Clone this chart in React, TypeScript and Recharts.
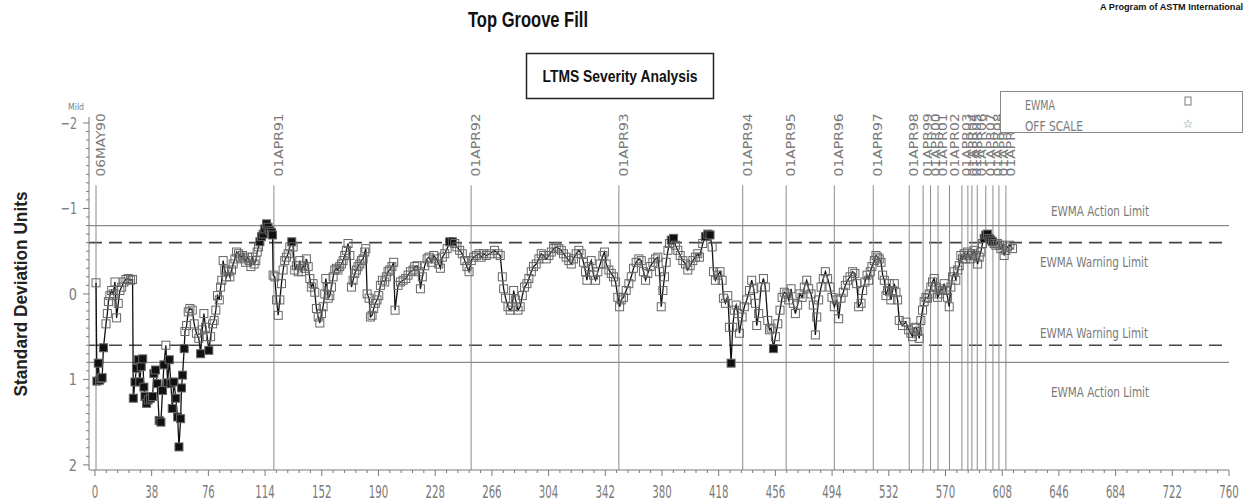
import React from 'react';
import { LineChart, Line, XAxis, YAxis, ReferenceLine } from 'recharts';

// test sequence (run number) and EWMA value in standard deviation units
const runs = [
  0.7, 1.3, 2.2, 3.1, 4.0, 4.8, 5.7, 7.4, 8.3, 9.0, 10.0, 11.2, 12.3, 13.4, 14.5, 15.6, 16.7, 17.9, 19.4, 20.8,
  22.3, 23.9, 25.2, 25.7, 26.8, 27.8, 29.0, 30.0, 31.0, 32.0, 32.8, 33.5, 34.6, 35.7, 37.3, 38.6, 39.5, 40.6, 41.7, 43.0,
  44.2, 45.3, 46.2, 47.5, 48.7, 49.8, 50.9, 51.8, 52.9, 54.2, 55.4, 56.3, 57.4, 58.0, 58.7, 59.8, 60.3, 61.4, 62.5, 63.6,
  65.2, 66.5, 68.0, 69.6, 70.8, 71.9, 73.0, 74.1, 75.2, 76.3, 77.5, 78.8, 79.9, 81.0, 82.1, 83.3, 84.2, 85.0, 85.9, 87.0,
  88.2, 89.3, 90.4, 91.5, 92.6, 93.8, 94.9, 96.2, 97.5, 98.9, 100.0, 101.0, 102.2, 103.3, 104.5, 105.6, 106.7, 107.8, 108.7, 109.6,
  110.5, 111.6, 112.7, 113.8, 115.0, 116.0, 117.2, 118.3, 119.0, 119.4, 120.5, 121.7, 122.8, 123.9, 125.0, 126.1, 127.2, 128.3, 129.5, 130.6,
  131.9, 132.8, 133.9, 135.0, 136.2, 137.3, 138.4, 139.5, 140.6, 141.7, 142.9, 144.0, 145.0, 146.2, 147.3, 148.4, 149.6, 150.7, 151.8, 152.9,
  154.0, 154.7, 155.6, 156.3, 157.4, 158.5, 159.6, 160.7, 161.8, 162.9, 164.0, 165.2, 166.3, 167.4, 168.5, 169.6, 170.8, 171.9, 173.0, 174.1,
  175.2, 176.3, 177.5, 178.6, 179.7, 180.8, 181.5, 182.4, 183.7, 184.6, 185.7, 186.8, 187.9, 189.0, 190.2, 191.3, 192.6, 194.2, 195.3, 196.4,
  197.5, 199.0, 200.2, 201.1, 203.1, 204.7, 206.5, 208.3, 209.8, 211.4, 213.2, 214.3, 215.9, 217.2, 218.1, 219.4, 221.0, 222.6, 223.9, 225.5,
  227.0, 228.8, 230.4, 231.5, 232.8, 234.4, 236.0, 237.7, 239.5, 241.1, 242.6, 244.4, 246.2, 247.8, 249.3, 250.7, 252.2, 253.8, 255.6, 257.4,
  258.9, 260.5, 262.3, 264.5, 267.8, 270.1, 271.6, 273.0, 273.9, 275.2, 276.8, 278.3, 279.7, 280.6, 281.9, 283.5, 285.0, 286.4, 287.9, 289.5,
  290.8, 292.4, 293.9, 295.7, 297.5, 299.1, 300.7, 302.4, 304.2, 305.8, 307.4, 309.1, 310.9, 312.5, 314.0, 315.8, 317.6, 319.2, 320.7, 322.5,
  324.3, 325.9, 327.4, 328.8, 329.7, 331.0, 332.6, 334.1, 335.5, 337.0, 338.6, 340.4, 341.5, 342.6, 344.4, 346.0, 347.5, 348.9, 350.4, 351.6,
  352.7, 354.2, 356.0, 357.8, 359.4, 360.9, 362.7, 364.5, 366.1, 367.6, 369.0, 370.5, 372.1, 373.9, 375.7, 377.2, 378.3, 379.5, 380.6, 381.7,
  382.8, 384.0, 385.0, 386.2, 387.7, 389.0, 390.6, 392.2, 394.0, 395.8, 397.3, 398.9, 400.7, 402.4, 404.0, 405.1, 407.3, 409.1, 410.7, 412.2,
  413.6, 414.5, 415.8, 417.4, 418.9, 420.3, 421.2, 422.5, 424.1, 425.2, 426.3, 427.4, 428.5, 429.7, 430.8, 431.9, 433.7, 435.2, 436.8, 438.6,
  440.1, 441.5, 442.6, 443.5, 444.8, 446.4, 448.0, 449.3, 450.9, 452.0, 453.1, 454.7, 456.0, 457.6, 459.1, 460.5, 462.0, 463.6, 464.9, 466.5,
  468.0, 469.4, 470.9, 472.5, 473.9, 475.4, 477.0, 478.3, 479.9, 481.4, 482.8, 483.7, 485.0, 486.6, 488.1, 489.5, 491.0, 492.6, 493.9, 495.5,
  497.1, 498.4, 500.0, 501.5, 502.9, 504.4, 506.0, 507.8, 509.3, 510.5, 511.8, 513.4, 514.5, 516.0, 517.4, 518.5, 519.6, 520.7, 522.3, 523.4,
  524.5, 525.6, 526.8, 527.9, 529.0, 530.1, 531.2, 532.3, 533.4, 534.6, 535.7, 536.8, 537.9, 539.0, 541.2, 543.5, 545.3, 546.8, 547.9, 549.0,
  550.2, 551.3, 552.4, 553.5, 554.6, 555.7, 556.9, 558.0, 559.1, 560.2, 561.3, 562.4, 563.6, 564.7, 565.8, 566.9, 568.0, 569.1, 570.3, 571.4,
  572.5, 573.6, 574.7, 575.8, 576.9, 578.1, 579.2, 580.3, 581.4, 582.5, 583.6, 584.8, 585.9, 587.0, 588.1, 589.2, 590.3, 591.5, 592.6, 593.7,
  594.8, 595.9, 597.0, 598.2, 599.3, 600.4, 601.5, 602.6, 603.7, 604.8, 606.0, 607.1, 608.2, 609.3, 610.4, 611.5, 613.1, 614.9,
];

const ewma = [
  -0.13, 1.02, 0.81, 1.01, 0.99, 0.98, 0.63, 0.35, 0.23, 0.09, 0.02, -0.04, 0.0, -0.14, 0.28, 0.11, -0.04, -0.08, -0.14, -0.17,
  -0.18, -0.16, -0.17, 1.22, 1.03, 0.87, 0.77, 1.03, 0.85, 0.76, 1.09, 1.2, 1.28, 1.24, 1.22, 1.2, 0.93, 0.89, 1.05, 1.48,
  1.5, 1.13, 0.83, 0.6, 1.04, 0.77, 1.05, 1.34, 1.03, 1.22, 1.44, 1.79, 1.46, 1.1, 0.95, 0.64, 0.44, 0.37, 0.21, 0.17,
  0.19, 0.35, 0.46, 0.52, 0.7, 0.42, 0.23, 0.39, 0.5, 0.66, 0.5, 0.35, 0.31, 0.19, 0.02, 0.07, -0.08, -0.16, -0.39, -0.28,
  -0.2, -0.26, -0.2, -0.28, -0.35, -0.41, -0.49, -0.47, -0.43, -0.45, -0.41, -0.37, -0.43, -0.39, -0.32, -0.43, -0.35, -0.39, -0.49, -0.55,
  -0.61, -0.67, -0.7, -0.76, -0.82, -0.78, -0.74, -0.72, -0.69, -0.22, -0.2, 0.07, 0.25, 0.07, -0.12, -0.28, -0.39, -0.43, -0.47, -0.55,
  -0.61, -0.55, -0.28, -0.33, -0.26, -0.39, -0.26, -0.33, -0.3, -0.41, -0.32, -0.18, -0.08, -0.12, -0.02, 0.17, 0.27, 0.34, 0.23, 0.15,
  0.0, -0.18, -0.08, 0.05, 0.02, -0.08, -0.2, -0.28, -0.3, -0.28, -0.32, -0.35, -0.39, -0.45, -0.51, -0.59, -0.45, -0.08, -0.16, -0.24,
  -0.28, -0.32, -0.35, -0.39, -0.41, -0.49, -0.53, 0.0, 0.05, 0.27, 0.25, 0.17, 0.11, 0.07, 0.02, -0.1, -0.16, -0.14, -0.2, -0.26,
  -0.28, -0.32, -0.37, 0.19, -0.1, -0.14, -0.16, -0.18, -0.22, -0.26, -0.28, -0.32, -0.33, -0.26, -0.06, -0.2, -0.33, -0.41, -0.43, -0.37,
  -0.45, -0.41, -0.35, -0.3, -0.43, -0.47, -0.53, -0.61, -0.61, -0.59, -0.55, -0.51, -0.47, -0.39, -0.32, -0.26, -0.39, -0.43, -0.45, -0.47,
  -0.43, -0.47, -0.45, -0.47, -0.51, -0.47, -0.45, -0.2, -0.06, 0.05, 0.15, 0.19, 0.15, -0.04, 0.07, 0.19, 0.15, 0.02, -0.08, -0.12,
  -0.18, -0.26, -0.32, -0.35, -0.41, -0.47, -0.45, -0.41, -0.45, -0.49, -0.53, -0.55, -0.53, -0.51, -0.47, -0.43, -0.39, -0.35, -0.41, -0.47,
  -0.51, -0.47, -0.37, -0.26, -0.16, -0.32, -0.39, -0.22, -0.16, -0.26, -0.35, -0.45, -0.49, -0.35, -0.28, -0.24, -0.2, -0.14, 0.04, 0.15,
  0.07, 0.04, -0.04, -0.12, -0.2, -0.3, -0.37, -0.41, -0.39, -0.26, -0.16, -0.24, -0.32, -0.37, -0.41, -0.43, -0.26, 0.15, -0.04, -0.2,
  -0.37, -0.51, -0.59, -0.63, -0.65, -0.57, -0.51, -0.45, -0.39, -0.35, -0.28, -0.33, -0.39, -0.43, -0.47, -0.43, -0.59, -0.67, -0.7, -0.69,
  -0.55, -0.26, -0.16, -0.22, -0.26, -0.16, 0.05, 0.11, 0.02, 0.39, 0.81, 0.39, 0.19, 0.13, 0.23, 0.46, 0.27, 0.15, 0.07, -0.04,
  -0.16, -0.06, 0.11, 0.37, 0.23, -0.08, -0.18, -0.08, 0.31, 0.42, 0.4, 0.64, 0.5, 0.35, 0.19, 0.04, -0.02, 0.0, 0.07, -0.06,
  0.11, 0.23, 0.13, 0.0, 0.04, -0.08, -0.16, -0.06, 0.0, 0.13, 0.48, 0.27, 0.07, -0.08, -0.18, -0.26, -0.18, -0.08, 0.04, 0.15,
  0.07, 0.29, 0.05, -0.02, -0.1, -0.16, -0.2, -0.26, -0.24, -0.12, 0.15, 0.11, -0.04, -0.14, -0.22, -0.16, -0.26, -0.32, -0.39, -0.45,
  -0.43, -0.41, -0.37, -0.22, -0.16, 0.02, -0.04, -0.12, 0.07, -0.04, -0.12, -0.02, 0.07, 0.31, 0.37, 0.33, 0.42, 0.46, 0.5, 0.4,
  0.39, 0.44, 0.52, 0.31, 0.19, 0.09, 0.04, 0.05, 0.0, -0.08, -0.14, -0.18, -0.08, 0.04, 0.0, -0.06, -0.04, -0.12, -0.04, 0.04,
  0.15, -0.08, -0.2, -0.26, -0.16, -0.28, -0.33, -0.45, -0.41, -0.47, -0.41, -0.49, -0.45, -0.41, -0.47, -0.51, -0.45, -0.35, -0.43, -0.49,
  -0.59, -0.65, -0.69, -0.7, -0.65, -0.63, -0.61, -0.59, -0.57, -0.59, -0.57, -0.53, -0.57, -0.45, -0.51, -0.55, -0.57, -0.53,
];

const xMajorTicks = [0, 38, 76, 114, 152, 190, 228, 266, 304, 342, 380, 418, 456, 494, 532, 570, 608, 646, 684, 722, 760];
const yMajorTicks = [-2, -1, 0, 1, 2];

// calendar markers along the run axis
const dateRuns = [
  0.7, 119.9, 252.1, 351.1, 434.1, 463.2, 495.5, 521.6, 545.7, 555.0, 560.0, 565.0, 572.7,
  581.0, 585.0, 587.7, 591.3, 597.0, 601.8, 605.8, 610.5,
];
const dateLabels = [
  '06MAY90', '01APR91', '01APR92', '01APR93', '01APR94', '01APR95', '01APR96', '01APR97', '01APR98', '01APR99', '01APR00',
  '01APR01', '01APR02', '01APR03', '01APR04', '01APR05', '01APR06', '01APR07', '01APR08', '01APR09', '01APR10',
];

const actionLimits = [-0.8, 0.8];
const warningLimits = [-0.6, 0.6];

const data = runs.map((run, i) => ({ run, ewma: ewma[i] }));

// minor ticks: 4 between x majors, every 0.1 on y
const xTicks: number[] = [];
xMajorTicks.forEach((t, i) => {
  xTicks.push(t);
  if (i < xMajorTicks.length - 1) for (let k = 1; k < 5; k++) xTicks.push(Math.round((t + 7.6 * k) * 10) / 10);
});
const yTicks: number[] = [];
for (let k = -20; k <= 20; k++) yTicks.push(k / 10);

const GREY = '#7a7a7a';
const LABEL_FONT = '"DejaVu Sans", sans-serif';

const XTick = (props: any) => {
  const { x, y, payload } = props;
  const major = xMajorTicks.includes(payload.value);
  return (
    <g>
      <line x1={x} x2={x} y1={y} y2={y + (major ? 6 : 3)} stroke={GREY} />
      {major && (
        // narrow digits, squeezed horizontally
        <text transform={`translate(${x} ${y + 28}) scale(0.6 1)`} textAnchor="middle" fontSize={17} fill={GREY}
          fontFamily={LABEL_FONT}>
          {payload.value}
        </text>
      )}
    </g>
  );
};

const YTick = (props: any) => {
  const { x, y, payload } = props;
  const major = yMajorTicks.includes(payload.value);
  const txt = payload.value < 0 ? `\u2212${Math.abs(payload.value)}` : String(payload.value);
  return (
    <g>
      <line x1={x - (major ? 6 : 3)} x2={x} y1={y} y2={y} stroke={GREY} />
      {major && (
        <text x={x - 12} y={y + 6} textAnchor="end" fontSize={16} fill={GREY} fontFamily={LABEL_FONT}
          textLength={txt.length * 8.2} lengthAdjust="spacingAndGlyphs">
          {txt}
        </text>
      )}
    </g>
  );
};

const SquareDot = (props: any) => {
  const { cx, cy, value, index } = props;
  if (cx == null || cy == null) return <g key={index} />;
  const beyond = Math.abs(value) > 0.6;
  return (
    <rect key={index} x={cx - 4} y={cy - 4} width={8} height={8}
      fill={beyond ? '#111' : 'none'} stroke="#666" strokeWidth={1} />
  );
};

const dateLabel = (text: string) => (p: any) => {
  const vb = p.viewBox;
  if (!vb) return null;
  const tx = vb.x + 9;
  const ty = vb.y - 9;
  return (
    <text x={tx} y={ty} transform={`rotate(-90 ${tx} ${ty})`} fontSize={13} fill={GREY} fontFamily={LABEL_FONT}
      textLength={text.length * 9} lengthAdjust="spacingAndGlyphs">
      {text}
    </text>
  );
};

const limitLabel = (text: string, dx: number, dy: number, width: number) => (p: any) => {
  const vb = p.viewBox;
  if (!vb) return null;
  return (
    <text x={vb.x + vb.width - dx} y={vb.y + dy} fontSize={14} fill={GREY} fontFamily={LABEL_FONT}
      textLength={width} lengthAdjust="spacingAndGlyphs">
      {text}
    </text>
  );
};

export default function App() {
  return (
    <div style={{ position: 'absolute', left: 0, top: 0, width: 1250, height: 504, background: '#fff' }}>
      <LineChart width={1250} height={504} data={data} margin={{ top: 117, right: 21, bottom: 0, left: 0 }}>
        <XAxis dataKey="run" type="number" domain={[-4, 760]} ticks={xTicks} interval={0} tick={<XTick />}
          tickLine={false} tickSize={0} tickMargin={0} height={34} stroke={GREY} allowDataOverflow />
        <YAxis type="number" reversed domain={[-2.07, 2.06]} ticks={yTicks} interval={0} tick={<YTick />}
          tickLine={false} tickSize={0} tickMargin={0} width={89} stroke={GREY} allowDataOverflow />

        <ReferenceLine y={actionLimits[0]} stroke="#8a8a8a" strokeWidth={1.2}
          label={limitLabel('EWMA Action Limit', 178, -10, 98)} />
        <ReferenceLine y={warningLimits[0]} stroke="#444" strokeWidth={1.6} strokeDasharray="13 7"
          label={limitLabel('EWMA Warning Limit', 189, 24, 108)} />
        <ReferenceLine y={warningLimits[1]} stroke="#444" strokeWidth={1.6} strokeDasharray="13 7"
          label={limitLabel('EWMA Warning Limit', 189, -7, 108)} />
        <ReferenceLine y={actionLimits[1]} stroke="#8a8a8a" strokeWidth={1.2}
          label={limitLabel('EWMA Action Limit', 178, 35, 98)} />

        {dateRuns.map((r, i) => (
          <ReferenceLine key={dateLabels[i]} segment={[{ x: r, y: -1.27 }, { x: r, y: 2.06 }]}
            stroke="#8a8a8a" strokeWidth={1} label={dateLabel(dateLabels[i])} />
        ))}

        <Line dataKey="ewma" type="linear" stroke="#111" strokeWidth={1.3} dot={SquareDot}
          activeDot={false} isAnimationActive={false} />
      </LineChart>

      <svg width={1250} height={504} style={{ position: 'absolute', left: 0, top: 0, pointerEvents: 'none' }}>
        <text x={528} y={27} textAnchor="middle" fontSize={22} fontWeight="bold" fill="#111"
          fontFamily='"Liberation Sans", Arial, sans-serif' textLength={120} lengthAdjust="spacingAndGlyphs">
          Top Groove Fill
        </text>
        <rect x={526.5} y={53.5} width={187} height={45} fill="none" stroke="#222" strokeWidth={1.5} />
        <text x={620} y={82} textAnchor="middle" fontSize={16} fontWeight="bold" fill="#111"
          fontFamily='"Liberation Sans", Arial, sans-serif' textLength={155} lengthAdjust="spacingAndGlyphs">
          LTMS Severity Analysis
        </text>
        <text x={1243} y={10} textAnchor="end" fontSize={9} fontWeight="bold" fill="#111"
          fontFamily='"Liberation Sans", Arial, sans-serif' textLength={143} lengthAdjust="spacingAndGlyphs">
          A Program of ASTM International
        </text>
        <text x={68} y={110} fontSize={9} fill={GREY} fontFamily={LABEL_FONT} textLength={16}
          lengthAdjust="spacingAndGlyphs">
          Mild
        </text>
        <text x={27} y={294} transform="rotate(-90 27 294)" textAnchor="middle" fontSize={19} fontWeight="bold"
          fill="#222" fontFamily='"Liberation Sans", Arial, sans-serif' textLength={205} lengthAdjust="spacingAndGlyphs">
          Standard Deviation Units
        </text>

        <rect x={1000.5} y={91.5} width={242} height={41} fill="#fff" stroke="#888" strokeWidth={1} />
        <text x={1025} y={110} fontSize={14} fill={GREY} fontFamily={LABEL_FONT} textLength={30}
          lengthAdjust="spacingAndGlyphs">
          EWMA
        </text>
        <text x={1025} y={131} fontSize={14} fill={GREY} fontFamily={LABEL_FONT} textLength={58}
          lengthAdjust="spacingAndGlyphs">
          OFF SCALE
        </text>
        <rect x={1185} y={97} width={6} height={8} fill="none" stroke={GREY} strokeWidth={1} />
        <text x={1188} y={128} textAnchor="middle" fontSize={12} fill={GREY} fontFamily={LABEL_FONT}>
          {'\u2606'}
        </text>
      </svg>
    </div>
  );
}
